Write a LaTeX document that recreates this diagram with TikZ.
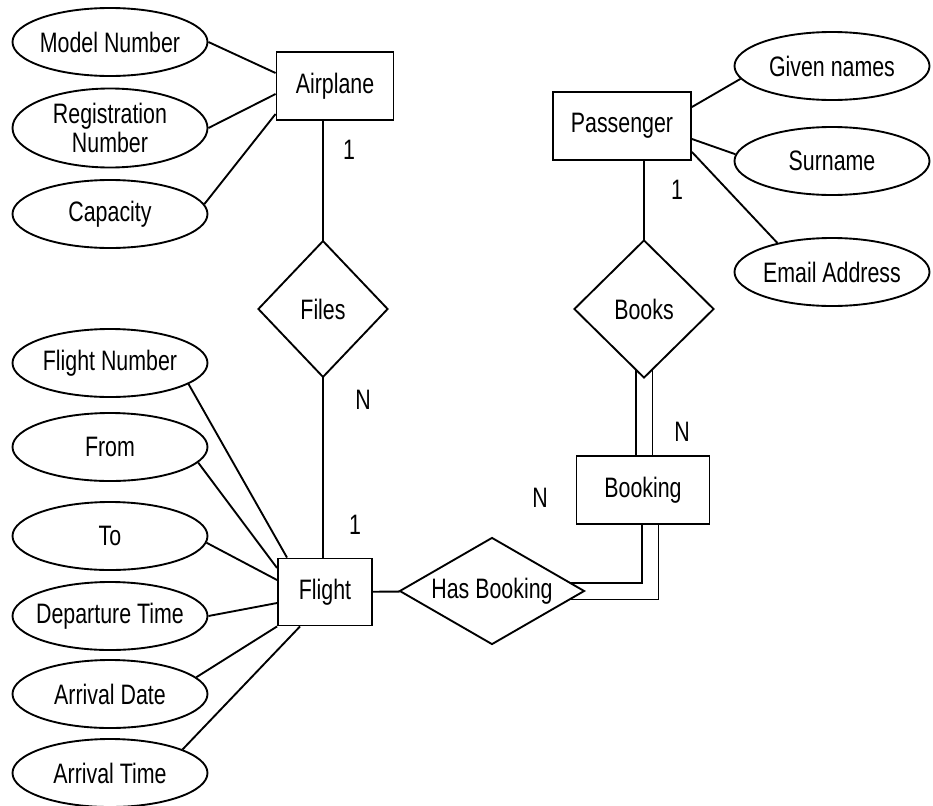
\documentclass[tikz,border=0pt]{standalone}
\usepackage{fontspec}
\setmainfont[FakeStretch=0.76]{Liberation Sans}
\usetikzlibrary{shapes.geometric,calc,backgrounds}

\tikzset{
  entity/.style={draw,fill=white,line width=1.6pt,minimum height=2.04cm,inner sep=2pt},
  attrib/.style={draw,ellipse,fill=white,line width=1.6pt,minimum width=5.85cm,minimum height=2.04cm,inner sep=-7pt,align=center},
  relship/.style={draw,diamond,fill=white,line width=1.6pt,inner sep=0pt},
  link/.style={black,line width=1.6pt},
  dbllink/.style={black,line width=1.6pt,double,double distance=0.45cm}
}

\begin{document}
\begin{tikzpicture}[x=0.03cm,y=-0.03cm,font=\fontsize{24}{25.5}\selectfont]
   \useasboundingbox (0,0) rectangle (933,805);
   % entities
   \node[entity,minimum width=3.51cm] (airplane) at (335,86) {Airplane};
   \node[entity,minimum width=4.14cm] (passenger) at (622,126) {Passenger};
   \node[entity,minimum width=2.82cm,minimum height=2.01cm] (flight) at (325,592) {Flight};
   \node[entity,minimum width=3.99cm] (booking) at (643,490) {Booking};
   % relationships
   \node[relship,minimum width=3.9cm,minimum height=4.1cm] (files) at (323,309) {Files};
   \node[relship,minimum width=4.2cm,minimum height=4.14cm] (books) at (644,309) {Books};
   \node[relship,aspect=1.7,minimum width=5.55cm,minimum height=3.21cm] (hasbooking) at (492,591) {Has Booking};
   % attributes
   \node[attrib] (modelno) at (110,42) {Model Number};
   \node[attrib,minimum height=2.37cm] (regno) at (110,128) {Registration\\Number};
   \node[attrib] (capacity) at (110,214) {Capacity};
   \node[attrib] (flightno) at (110,363) {Flight Number};
   \node[attrib] (flfrom) at (110,447) {From};
   \node[attrib] (flto) at (110,536) {To};
   \node[attrib] (deptime) at (110,616) {Departure Time};
   \node[attrib] (arrdate) at (110,694) {Arrival Date};
   \node[attrib] (arrtime) at (110,773) {Arrival Time};
   \node[attrib] (given) at (832,66) {Given names};
   \node[attrib] (surname) at (832,161) {Surname};
   \node[attrib] (email) at (832,272) {Email Address};
   % cardinalities
   \node (cardA) at (349,150) {1};
   \node (cardB) at (363,400) {N};
   \node (cardC) at (355,525) {1};
   \node (cardD) at (677,190) {1};
   \node (cardE) at (682,432) {N};
   \node (cardF) at (540,498) {N};
   \begin{pgfonlayer}{background}
   \draw[link] (files.center) -- (files.center |- airplane.south);
   \draw[link] (files.center) -- (files.center |- flight.north);
   \draw[link] (books.center) -- (books.center |- passenger.south);
   \draw[dbllink] (books.center) -- (books.center |- booking.center);
   \draw[dbllink] ($(booking.center)+(7,0)$) |- (hasbooking.center);
   \draw[link] (flight) -- (hasbooking);
   \draw[link] (modelno.east) -- ($(airplane.west)+(0,-13)$);
   \draw[link] (regno.east) -- ($(airplane.west)+(0,8)$);
   \draw[link] (capacity.6) -- ($(airplane.west)+(0,28)$);
   \draw[link] (flightno.-15) -- ($(flight.north)+(-38,0)$);
   \draw[link] (flfrom.-10) -- ($(flight.west)+(0,-24)$);
   \draw[link] (flto.-4) -- ($(flight.west)+(0,-12)$);
   \draw[link] (deptime.east) -- ($(flight.west)+(0,11)$);
   \draw[link] (arrdate.11) -- (flight.south west);
   \draw[link] (arrtime.18) -- ($(flight.south)+(-25,0)$);
   \draw[link] (given.188) -- ($(passenger.east)+(0,-19)$);
   \draw[link] (surname.176) -- ($(passenger.east)+(0,13)$);
   \draw[link] (email.152) -- ($(passenger.east)+(0,26)$);
   \end{pgfonlayer}
\end{tikzpicture}
\end{document}
